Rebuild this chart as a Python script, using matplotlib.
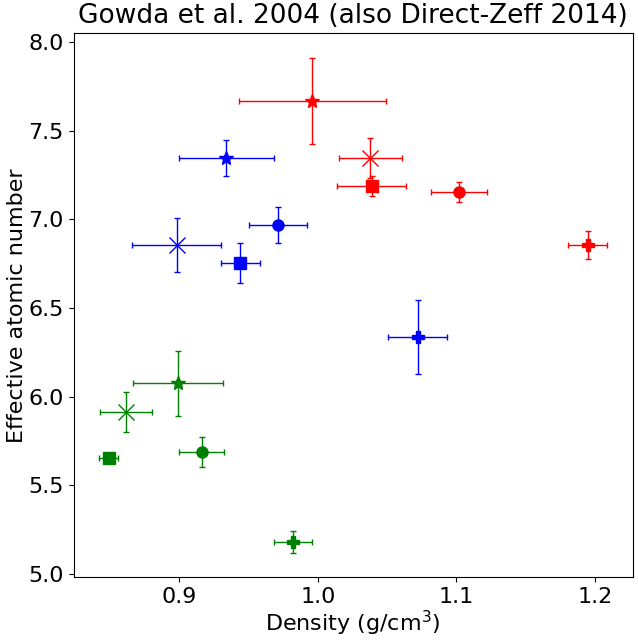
import numpy as np
import matplotlib
matplotlib.use("Agg")
import matplotlib.pyplot as plt

# marker order within each colour group: star, x, square, circle, plus
markers = ["*", "x", "s", "o", "P"]

# red group
red_x = [0.996, 1.038, 1.039, 1.102, 1.195]
red_xerr = [0.053, 0.023, 0.025, 0.020, 0.014]
red_y = [7.667, 7.345, 7.187, 7.153, 6.854]
red_yerr = [0.243, 0.113, 0.054, 0.056, 0.079]

# blue group
blue_x = [0.934, 0.898, 0.944, 0.971, 1.072]
blue_xerr = [0.034, 0.032, 0.014, 0.021, 0.021]
blue_y = [7.345, 6.854, 6.752, 6.967, 6.334]
blue_yerr = [0.102, 0.150, 0.113, 0.099, 0.209]

# green group
green_x = [0.899, 0.8615, 0.849, 0.916, 0.982]
green_xerr = [0.0325, 0.019, 0.007, 0.016, 0.014]
green_y = [6.075, 5.911, 5.651, 5.685, 5.182]
green_yerr = [0.184, 0.113, 0.020, 0.085, 0.062]

groups = [
    ("red", red_x, red_xerr, red_y, red_yerr),
    ("blue", blue_x, blue_xerr, blue_y, blue_yerr),
    ("green", green_x, green_xerr, green_y, green_yerr),
]

msize = {"*": 10, "x": 11, "s": 8, "o": 8, "P": 8}

fig = plt.figure(figsize=(6.38, 6.44), dpi=100)
ax = fig.add_axes([0.1155, 0.1036, 0.876, 0.845])

for color, xs, xe, ys, ye in groups:
    for i in range(len(xs)):
        ax.errorbar(
            xs[i], ys[i], xerr=xe[i], yerr=ye[i],
            fmt=markers[i], color=color, ms=msize[markers[i]], capsize=2, elinewidth=1,
        )

ax.set_title("Gowda et al. 2004 (also Direct-Zeff 2014)", fontsize=19, pad=7)
ax.set_xlabel("Density (g/cm$^3$)", fontsize=16, labelpad=1)
ax.set_ylabel("Effective atomic number", fontsize=16, labelpad=1)
ax.tick_params(labelsize=16)

fig.savefig("out.png", dpi=100)
